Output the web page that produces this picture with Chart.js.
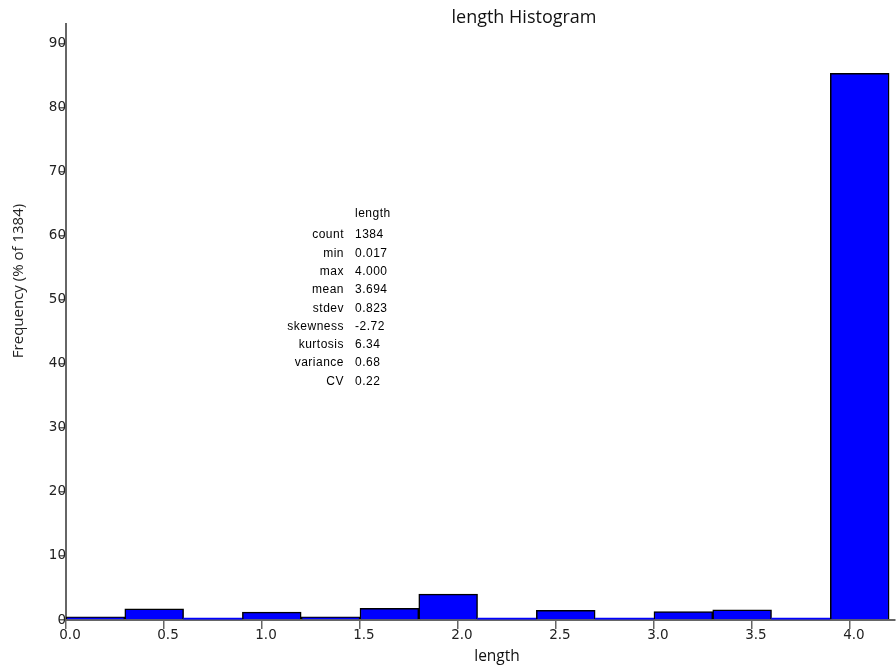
<!DOCTYPE html>
<html>
<head>
<meta charset="utf-8">
<script src="https://cdn.jsdelivr.net/npm/chart.js@4"></script>
<style>
  html, body { margin: 0; padding: 0; background: #fff; }
  #wrap { width: 896px; height: 667px; }
</style>
</head>
<body>
<div id="wrap"><canvas id="c" width="896" height="667"></canvas></div>
<script>
// ---- data ----
const binStarts = [0.0, 0.3, 0.6, 0.9, 1.2, 1.5, 1.8, 2.1, 2.4, 2.7, 3.0, 3.3, 3.6, 3.9];
const binWidth = 0.3;
const freqPct = [0.51, 1.73, 0.29, 1.23, 0.51, 1.81, 4.05, 0.29, 1.52, 0.29, 1.30, 1.59, 0.29, 85.40];
const xTickStep = 0.5;
const yTickStep = 10;
const xMax = 4.23;
const yMax = 93.1;
const chartTitle = 'length Histogram';
const xTitle = 'length';
const yTitle = 'Frequency (% of 1384)';
const statsHeader = 'length';
const statsLabels = ['count', 'min', 'max', 'mean', 'stdev', 'skewness', 'kurtosis', 'variance', 'CV'];
const statsValues = ['1384', '0.017', '4.000', '3.694', '0.823', '-2.72', '6.34', '0.68', '0.22'];

const points = binStarts.map((s, i) => ({ x: s + binWidth / 2, y: freqPct[i] }));

function keepMultiples(step) {
  return function (scale) {
    scale.ticks = scale.ticks.filter(t => Math.abs(t.value / step - Math.round(t.value / step)) < 1e-6);
  };
}

const textPlugin = {
  id: 'texts',
  afterDraw(chart) {
    const ctx = chart.ctx;
    ctx.save();
    ctx.fillStyle = '#111';
    // title
    ctx.font = '18px "Open Sans"';
    ctx.textAlign = 'center';
    ctx.textBaseline = 'middle';
    ctx.fillText(chartTitle, 524, 18);
    // x title
    ctx.font = '15.5px "Open Sans"';
    ctx.fillText(xTitle, 497, 657);
    // y title
    ctx.save();
    ctx.translate(19, 281);
    ctx.rotate(-Math.PI / 2);
    ctx.font = '15px "Open Sans"';
    ctx.fillStyle = '#222';
    ctx.fillText(yTitle, 0, 0);
    ctx.restore();
    // stats
    ctx.font = '12px "Liberation Sans"';
    try { ctx.letterSpacing = '0.5px'; } catch (e) {}
    ctx.fillStyle = '#000';
    ctx.textBaseline = 'middle';
    ctx.textAlign = 'left';
    ctx.fillText(statsHeader, 355, 214);
    statsLabels.forEach((lab, i) => {
      const y = 235 + i * 18.3;
      ctx.textAlign = 'right';
      ctx.fillText(lab, 344, y);
      ctx.textAlign = 'left';
      ctx.fillText(statsValues[i], 355, y);
    });
    ctx.restore();
  }
};

new Chart(document.getElementById('c'), {
  type: 'bar',
  data: {
    datasets: [{
      data: points,
      backgroundColor: '#0000ff',
      borderColor: '#000000',
      borderWidth: c => (c.raw && c.raw.y < 0.4 ? 0 : 1.5),
      barPercentage: 1.0,
      categoryPercentage: 1.0
    }]
  },
  options: {
    responsive: false,
    animation: false,
    devicePixelRatio: 1,
    layout: { padding: { top: 24, left: 0, right: 1, bottom: 0 } },
    plugins: { legend: { display: false }, title: { display: false }, tooltip: { enabled: false } },
    scales: {
      x: {
        type: 'linear',
        min: 0,
        max: xMax,
        offset: false,
        afterBuildTicks: keepMultiples(xTickStep),
        afterFit(scale) { scale.height = 47; },
        ticks: {
          stepSize: xTickStep,
          includeBounds: false,
          callback: v => Number(v).toFixed(1),
          font: { family: 'DejaVu Sans', size: 13.5 },
          color: '#222',
          padding: -2,
          labelOffset: 4,
          maxRotation: 0,
          autoSkip: false
        },
        grid: { display: true, offset: false, drawOnChartArea: false, drawTicks: true, tickLength: 9, color: '#666', lineWidth: 1.5 },
        border: { display: true, color: '#666', width: 2 }
      },
      y: {
        min: 0,
        max: yMax,
        afterBuildTicks: keepMultiples(yTickStep),
        afterFit(scale) { scale.width = 66; },
        ticks: {
          stepSize: yTickStep,
          includeBounds: false,
          font: { family: 'DejaVu Sans', size: 13.5 },
          color: '#222',
          padding: -7,
          autoSkip: false
        },
        grid: { display: true, offset: false, drawOnChartArea: false, drawTicks: true, tickLength: 7, color: '#666', lineWidth: 1.5 },
        border: { display: true, color: '#666', width: 2 }
      }
    }
  },
  plugins: [textPlugin]
});
</script>
</body>
</html>
